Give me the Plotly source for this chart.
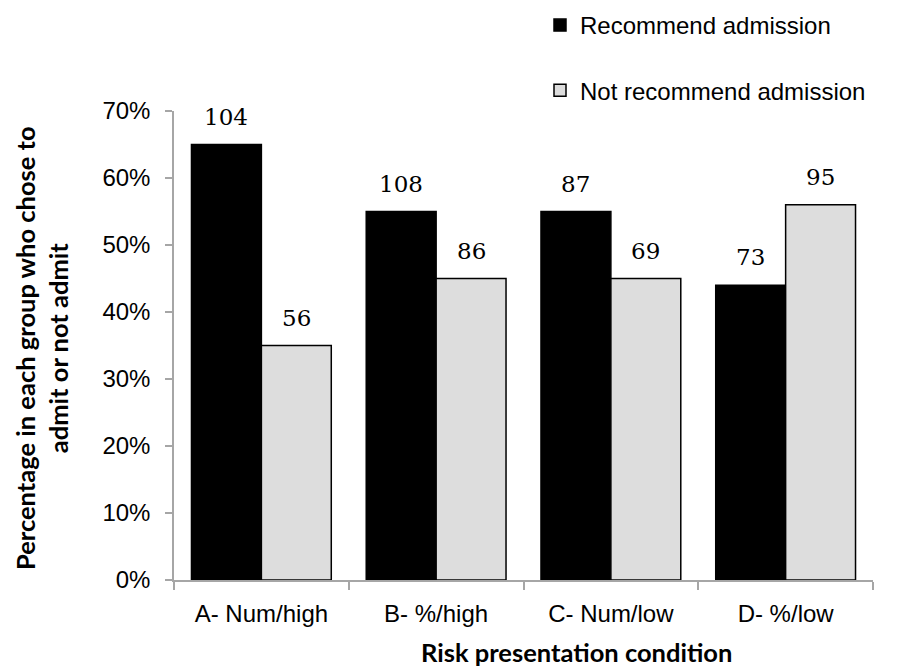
import plotly.graph_objects as go

# Risk presentation conditions and the share of each group choosing to admit / not admit
conditions = ["A- Num/high", "B- %/high", "C- Num/low", "D- %/low"]
recommend_pct = [0.65, 0.55, 0.55, 0.44]
not_recommend_pct = [0.35, 0.45, 0.45, 0.56]

# Number of respondents behind each bar
recommend_n = [104, 108, 87, 73]
not_recommend_n = [56, 86, 69, 95]

y_tick_vals = [0.0, 0.1, 0.2, 0.3, 0.4, 0.5, 0.6, 0.7]

W, H = 897, 669
ML, MR, MT, MB = 174, 24, 111, 89
plot_w = W - ML - MR
plot_h = H - MT - MB

AXIS_GREY = "#A6A6A6"
TICK_FONT = dict(family="Liberation Sans, Arial, sans-serif", size=24, color="#000000")
COUNT_FONT = dict(family="DejaVu Serif, serif", size=23, color="#000000")
TITLE_FONT = dict(family="Lato, sans-serif", size=25.5, color="#000000", weight="bold")

fig = go.Figure()
fig.add_trace(go.Bar(
    x=conditions, y=recommend_pct, name="Recommend admission",
    legendgroup="rec",
    marker=dict(color="#000000", line=dict(color="#000000", width=1.5)),
))
fig.add_trace(go.Bar(
    x=conditions, y=not_recommend_pct, name="Not recommend admission",
    legendgroup="notrec",
    marker=dict(color="#DDDDDD", line=dict(color="#000000", width=1.5)),
))

# Group sizes written above each bar
half_bar = plot_w / len(conditions) * (1 - 0.2) / 4
annotations = []
for cond, p, n in zip(conditions, recommend_pct, recommend_n):
    annotations.append(dict(x=cond, y=p, text=str(n), showarrow=False,
                            xshift=-half_bar, yshift=28, yanchor="middle",
                            font=COUNT_FONT))
for cond, p, n in zip(conditions, not_recommend_pct, not_recommend_n):
    annotations.append(dict(x=cond, y=p, text=str(n), showarrow=False,
                            xshift=half_bar, yshift=28, yanchor="middle",
                            font=COUNT_FONT))

# Axis titles
annotations.append(dict(
    x=(41 - ML) / plot_w, y=(H - MB - 348) / plot_h, xref="paper", yref="paper",
    text="Percentage in each group who chose to<br>admit or not admit",
    textangle=-90, showarrow=False, xanchor="center", yanchor="middle",
    align="center", font=TITLE_FONT,
))
annotations.append(dict(
    x=(576 - ML) / plot_w, y=-(652 - (H - MB)) / plot_h, xref="paper", yref="paper",
    text="Risk presentation condition", showarrow=False,
    xanchor="center", yanchor="middle", font=TITLE_FONT,
))

fig.update_layout(
    width=W, height=H,
    margin=dict(l=ML, r=MR, t=MT, b=MB, pad=0, autoexpand=False),
    paper_bgcolor="#FFFFFF", plot_bgcolor="#FFFFFF",
    barmode="group", bargap=0.2, bargroupgap=0,
    showlegend=True,
    legend=dict(
        x=(540 - ML) / plot_w, y=1 + (MT - 3) / plot_h, xanchor="left", yanchor="top",
        font=dict(family="Liberation Sans, Arial, sans-serif", size=24, color="#000000"),
        tracegroupgap=31, bgcolor="rgba(0,0,0,0)",
    ),
    annotations=annotations,
    xaxis=dict(
        showline=True, linecolor=AXIS_GREY, linewidth=1.5,
        ticks="outside", tickson="boundaries", ticklen=8, tickcolor=AXIS_GREY, tickwidth=1.5,
        showgrid=False, zeroline=False, tickfont=TICK_FONT, tickangle=0,
        ticklabelstandoff=11,
    ),
    yaxis=dict(
        range=[0, 0.7], tickvals=y_tick_vals, tickformat=".0%",
        showline=True, linecolor=AXIS_GREY, linewidth=1.5,
        ticks="outside", ticklen=7, tickcolor=AXIS_GREY, tickwidth=1.5,
        showgrid=False, zeroline=False, tickfont=TICK_FONT,
        ticklabelstandoff=10,
    ),
)

fig.write_html("out.html")
